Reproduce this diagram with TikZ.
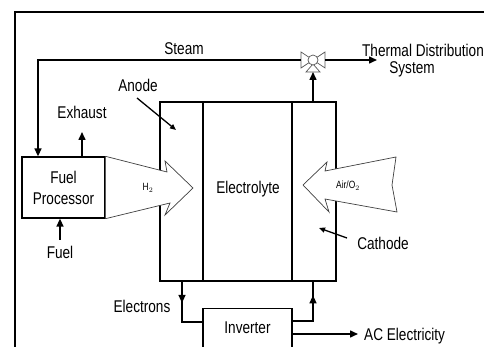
\documentclass[tikz,border=0pt]{standalone}
\usepackage{fontspec}
\setmainfont{Liberation Sans}[FakeStretch=0.8]
\usetikzlibrary{arrows.meta,decorations.markings}
\begin{document}
\begin{tikzpicture}[x=1pt,y=-1pt,
  lbl/.style={font=\fontsize{17}{21}\selectfont, inner sep=0pt},
  sm/.style={font=\fontsize{10.5}{11}\selectfont, inner sep=0pt},
  box/.style={draw, line width=1.3pt, inner sep=0pt},
  conn/.style={line width=1.5pt, -{Triangle[length=8pt,width=7pt]}},
  thin/.style={line width=1.3pt, -{Triangle[length=6pt,width=5pt]}},
  fat/.style={draw=black!75, fill=white, line width=0.7pt, line join=miter},
  valvest/.style={draw=black!65, fill=white, line width=0.7pt},
  midarrow/.style={postaction={decorate}, decoration={markings, mark=at position #1 with {\arrow{Triangle[length=8pt,width=7pt]}}}}
]
\useasboundingbox (0,0) rectangle (484,347);
\begin{scope}
\clip (0,0) rectangle (484,347);
% frame
\draw[line width=2.5pt] (15,360) -- (15,12) -- (490,12);

% fuel cell
\node[box, minimum width=43pt, minimum height=179pt] (an) at (181.5,191.5) {};
\node[box, minimum width=89pt, minimum height=179pt] (el) at (247.5,191.5) {};
\node[lbl] (elt) at (248,189) {Electrolyte};
\node[box, minimum width=44pt, minimum height=179pt] (ca) at (314,191.5) {};

% fuel processor
\node[box, minimum width=83pt, minimum height=61pt] (fp) at (63.5,187.5) {};
\node[lbl, align=center] (fpt) at (63.5,187.5) {Fuel\\Processor};

% inverter
\node[box, minimum width=89pt, minimum height=60pt, anchor=north] (inv) at (247.5,308) {};
\node[lbl] (invt) at (247.5,328) {Inverter};

% H2 arrow
\draw[fat] (fp.north east) -- (167,172) -- (165,161) -- (193,188) -- (165,215) -- (170,203) -- (fp.south east);
\node[sm] (h2) at (148,188) {H$_2$};

% Air arrow
\draw[fat] (303,185) -- (327,162) -- (325,171) -- (396,157) -- (392,185) -- (397,212) -- (325,199) -- (329,212) -- cycle;
\node[sm] (air) at (348,186) {Air/O$_2$};

% valve
\coordinate (valve) at (313,60);
\coordinate (vW) at (301,60);
\coordinate (vE) at (325,60);
\coordinate (vB) at (313,72);
\draw[valvest] (301,52) -- (313,60) -- (301,68) -- cycle;
\draw[valvest] (325,52) -- (313,60) -- (325,68) -- cycle;
\draw[valvest] (313,64) -- (306,72) -- (320,72) -- cycle;
\draw[valvest] (valve) circle (5pt);

% labels
\node[lbl] (steam) at (184,49) {Steam};
\node[lbl] (tds1) at (423,50) {Thermal Distribution};
\node[lbl] (tds2) at (412,69) {System};
\node[lbl] (exh) at (82,112) {Exhaust};
\node[lbl] (fuel) at (60,252) {Fuel};
\node[lbl] (anl) at (138,85) {Anode};
\node[lbl] (cal) at (383,243) {Cathode};
\node[lbl] (elc) at (142,306) {Electrons};
\node[lbl, anchor=west] (ac) at (364,336) {AC Electricity};

% steam line
\coordinate (stc) at (38,60);
\draw[conn] (vW) -- (stc) -- (stc |- fp.north);
\draw[conn] (vE) -- (377,60);
\draw[conn] (ca.north -| vB) -- (vB);

% exhaust / fuel
\coordinate (exT) at (82,132);
\draw[conn] (fp.north -| exT) -- (exT);
\coordinate (fuB) at (60,240);
\draw[conn] (fuB) -- (fp.south -| fuB);

% anode / cathode pointers
\coordinate (anS) at (137,98);
\coordinate (anE) at (176,130);
\draw[thin] (anS) -- (anE);
\coordinate (caS) at (347,238);
\coordinate (caE) at (319,228);
\draw[thin] (caS) -- (caE);

% electrons
\coordinate (eL) at (182,322);
\coordinate (eR) at (313,321);
\draw[line width=1.5pt, midarrow=0.35] (an.south -| eL) -- (eL) -- (inv.west |- eL);
\draw[line width=1.5pt, midarrow=0.77] (inv.east |- eR) -- (eR) -- (ca.south -| eR);

% AC
\coordinate (acS) at (292,334);
\draw[conn] (inv.east |- acS) -- ([xshift=-6pt]ac.west |- acS);
\end{scope}
\end{tikzpicture}
\end{document}
